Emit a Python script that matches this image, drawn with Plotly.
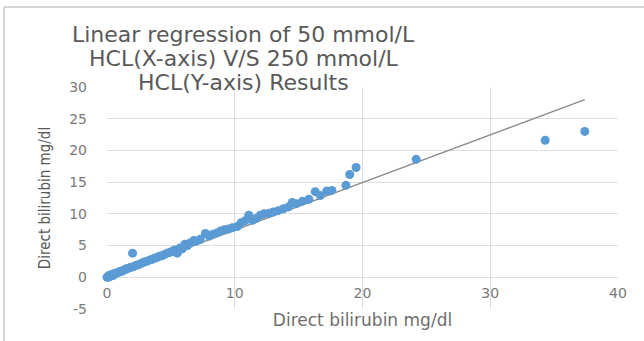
import plotly.graph_objects as go
import numpy as np

# Data
x_vals = [0.0, 0.1, 0.1, 0.2, 0.2, 0.3, 0.3, 0.4, 0.5, 0.5, 0.6, 0.7, 0.8, 0.9, 1.0,
          1.1, 1.2, 1.3, 1.4, 1.5, 1.6, 1.8, 1.9, 2.0, 2.1, 2.3, 2.5, 2.7, 2.9, 3.1,
          3.3, 3.5, 3.7, 3.9, 4.1, 4.3, 4.5, 4.7, 4.9, 5.1, 5.3, 5.5, 5.7, 5.9, 6.1,
          6.3, 6.5, 6.8, 7.0, 7.3, 7.7, 8.0, 8.3, 8.6, 8.9, 9.2, 9.5, 9.8, 10.2, 10.5,
          10.8, 11.1, 11.4, 11.7, 12.0, 12.3, 12.7, 13.0, 13.4, 13.8, 14.2, 14.5, 14.8,
          15.3, 15.8, 16.3, 16.7, 17.2, 17.6, 18.7, 19.0, 19.5, 24.2, 34.3, 37.4]
y_vals = [0.0, 0.2, 0.0, 0.3, 0.1, 0.4, 0.2, 0.3, 0.5, 0.3, 0.6, 0.6, 0.7, 0.8, 0.9,
          0.9, 1.0, 1.1, 1.2, 1.3, 1.4, 1.5, 1.6, 3.8, 1.7, 1.9, 2.0, 2.2, 2.4, 2.5,
          2.7, 2.8, 3.0, 3.1, 3.3, 3.4, 3.6, 3.8, 3.9, 4.1, 4.3, 3.8, 4.6, 4.5, 5.2,
          5.0, 5.4, 5.8, 5.7, 6.0, 6.9, 6.5, 6.8, 7.0, 7.3, 7.5, 7.6, 7.8, 8.0, 8.6,
          8.9, 9.8, 9.0, 9.3, 9.8, 10.0, 10.1, 10.3, 10.5, 10.8, 11.1, 11.8, 11.6,
          12.0, 12.3, 13.5, 12.9, 13.6, 13.7, 14.5, 16.2, 17.3, 18.6, 21.6, 23.0]
trend_slope = 0.752
trend_intercept = -0.1
x_ticks = [0, 10, 20, 30, 40]
y_ticks = [-5, 0, 5, 10, 15, 20, 25, 30]
y_tick_labels = ["-5", "0", "5", "10", "15", "20", "25", "30"]
title_lines = ["Linear regression of 50 mmol/L", "HCL(X-axis) V/S 250 mmol/L", "HCL(Y-axis) Results"]
axis_title = "Direct bilirubin mg/dl"

trend_x = [min(x_vals), max(x_vals)]
trend_y = [trend_slope * v + trend_intercept for v in trend_x]

fig = go.Figure()
fig.add_trace(go.Scatter(x=trend_x, y=trend_y, mode="lines",
                         line=dict(color="#8c8c8c", width=1.3), hoverinfo="skip"))
fig.add_trace(go.Scatter(x=x_vals, y=y_vals, mode="markers",
                         marker=dict(color="#5b9bd5", size=9), cliponaxis=False))

grid = "#dedede"
tick_font = dict(family="DejaVu Sans", size=14, color="#7a7a7a")
fig.update_xaxes(range=[0, 40], tickvals=x_ticks, showgrid=True, gridcolor=grid, gridwidth=1,
                 zeroline=False, showline=False, tickfont=tick_font, ticklabelstandoff=-26,
                 automargin=False,
                 title=dict(text=axis_title, font=dict(family="DejaVu Sans", size=17, color="#6e6e6e"),
                            standoff=14))
fig.update_yaxes(range=[-5, 30], tickvals=y_ticks, ticktext=y_tick_labels, showgrid=True,
                 gridcolor=grid, gridwidth=1,
                 zeroline=True, zerolinecolor=grid, zerolinewidth=1, showline=False,
                 tickfont=tick_font, ticklabelstandoff=19, automargin=False,
                 title=dict(text=axis_title, font=dict(family="Liberation Sans Narrow, DejaVu Sans Condensed", size=15, color="#595959"),
                            standoff=14))

ys = [1.2387, 1.1306, 1.0225]
for t, yy in zip(title_lines, ys):
    fig.add_annotation(text=t, xref="paper", yref="paper", x=0.268, y=yy, xanchor="center",
                       yanchor="middle", showarrow=False,
                       font=dict(family="DejaVu Sans", size=22, color="#595959"))

border = "#d6d6d6"
fig.add_shape(type="line", xref="paper", yref="paper", x0=-0.2016, x1=1.06, y0=1.360, y1=1.360,
              line=dict(color=border, width=2))
fig.add_shape(type="line", xref="paper", yref="paper", x0=-0.2016, x1=-0.2016, y0=1.360, y1=-0.16,
              line=dict(color=border, width=2))

fig.update_layout(width=644, height=341, margin=dict(l=107, r=26, t=87, b=32, autoexpand=False),
                  paper_bgcolor="white", plot_bgcolor="white", showlegend=False)
fig.write_html("out.html")
